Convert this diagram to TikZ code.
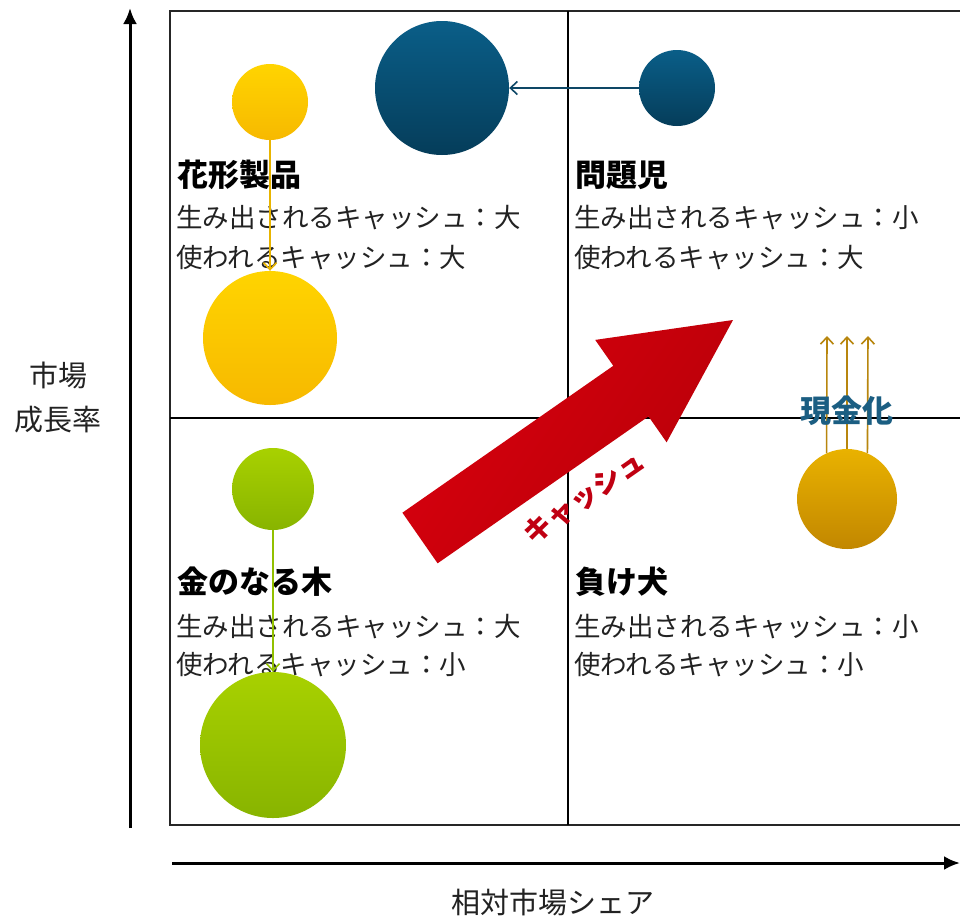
\documentclass[tikz,border=0pt]{standalone}
\usepackage{fontspec}
\setmainfont{Noto Sans CJK JP}
\usetikzlibrary{arrows.meta}
\definecolor{txt}{HTML}{222222}
\definecolor{ylwT}{HTML}{FFD400}
\definecolor{ylwB}{HTML}{F7B900}
\definecolor{navT}{HTML}{0A5E88}
\definecolor{navB}{HTML}{053D5A}
\definecolor{grnT}{HTML}{A8D100}
\definecolor{grnB}{HTML}{88B400}
\definecolor{gldT}{HTML}{E9B200}
\definecolor{gldB}{HTML}{C28700}
\definecolor{ylwLine}{HTML}{E8B400}
\definecolor{grnLine}{HTML}{92C000}
\definecolor{navLine}{HTML}{0E4766}
\definecolor{gldLine}{HTML}{B8860E}
\definecolor{cashblue}{HTML}{1B5E82}
\definecolor{redA}{HTML}{D8000E}
\definecolor{redB}{HTML}{B80008}
\definecolor{redT}{HTML}{C00012}
\tikzset{
  body/.style={anchor=west, inner sep=0pt, text=txt, font=\fontsize{26.5}{30}\selectfont},
  head/.style={anchor=west, inner sep=0pt, text=black, font=\fontsize{31}{34}\selectfont\bfseries},
  axislabel/.style={inner sep=0pt, text=txt, font=\fontsize{29}{34}\selectfont},
  bubble/.style={circle, inner sep=0pt, minimum size=#1},
  axisarrow/.style={line width=3pt, -{Latex[length=16pt,width=14pt]}},
  moveline/.style={line width=1.6pt, -{Straight Barb[length=7pt,width=13pt]}},
}
\begin{document}
\begin{tikzpicture}[x=1pt,y=-1pt]
\useasboundingbox (0,0) rectangle (960,919);
\clip (0,0) rectangle (960,919);
\fill[white] (0,0) rectangle (960,919);
% matrix frame
\coordinate (frTL) at (170,11);
\coordinate (frBR) at (990,825);
\draw[line width=2pt, black!85] (frTL) rectangle (frBR);
\coordinate (vT) at (568,11);
\coordinate (vB) at (568,825);
\coordinate (hL) at (170,418);
\coordinate (hR) at (990,418);
\draw[line width=1.6pt] (vT) -- (vB);
\draw[line width=1.6pt] (hL) -- (hR);
% axes
\coordinate (yA0) at (130,828);
\coordinate (yA1) at (130,8);
\draw[axisarrow] (yA0) -- (yA1);
\coordinate (xA0) at (172,863);
\coordinate (xA1) at (960,863);
\draw[axisarrow] (xA0) -- (xA1);
\node[axislabel] (ylab1) at (58,375) {市場};
\node[axislabel] (ylab2) at (58,420) {成長率};
\node[axislabel] (xlab) at (553,902) {相対市場シェア};
% quadrant texts
\node[head] (q1h) at (177,175) {花形製品};
\node[body] (q1a) at (176,218) {生み出されるキャッシュ：大};
\node[body] (q1b) at (176,258) {使われるキャッシュ：大};
\node[head] (q2h) at (575,175) {問題児};
\node[body] (q2a) at (574,218) {生み出されるキャッシュ：小};
\node[body] (q2b) at (574,258) {使われるキャッシュ：大};
\node[head] (q3h) at (177,582) {金のなる木};
\node[body] (q3a) at (176,627) {生み出されるキャッシュ：大};
\node[body] (q3b) at (176,665) {使われるキャッシュ：小};
\node[head] (q4h) at (575,582) {負け犬};
\node[body] (q4a) at (574,627) {生み出されるキャッシュ：小};
\node[body] (q4b) at (574,665) {使われるキャッシュ：小};
% red cash arrow
\shade[left color=redA, right color=redB, shading angle=55]
  (402.4,512.7) -- (613.3,365.8) -- (595.2,339.9) -- (733,320)
  -- (666.6,442.3) -- (648.5,416.4) -- (437.6,563.3) -- cycle;
\node[inner sep=0pt, rotate=34.9, text=redT, font=\fontsize{28}{30}\selectfont\bfseries] (cashlab) at (584,497) {キャッシュ};
% bubbles
\node[bubble=76pt, top color=ylwT, bottom color=ylwB] (ys) at (270,102) {};
\node[bubble=134pt, top color=ylwT, bottom color=ylwB] (yb) at (270,338) {};
\node[bubble=134pt, top color=navT, bottom color=navB] (nb) at (442,88) {};
\node[bubble=76pt, top color=navT, bottom color=navB] (ns) at (677,88) {};
\node[bubble=82pt, top color=grnT, bottom color=grnB] (gs) at (273,489) {};
\node[bubble=146pt, top color=grnT, bottom color=grnB] (gb) at (273,745) {};
\node[bubble=100pt, top color=gldT, bottom color=gldB] (gc) at (847,499) {};
% movement arrows
\draw[moveline, ylwLine] (ys.south) -- (yb.north);
\draw[moveline, grnLine] (gs.south) -- (gb.north);
\draw[moveline, navLine] (ns.west) -- (nb.east);
\coordinate (c1) at (827,336);
\coordinate (c2) at (847,336);
\coordinate (c3) at (868,336);
\draw[moveline, gldLine] (gc.114) -- (c1);
\draw[moveline, gldLine] (gc.90) -- (c2);
\draw[moveline, gldLine] (gc.66) -- (c3);
\node[inner sep=0pt, text=cashblue, font=\fontsize{31}{34}\selectfont\bfseries] (cashout) at (847,411) {現金化};
\end{tikzpicture}
\end{document}
